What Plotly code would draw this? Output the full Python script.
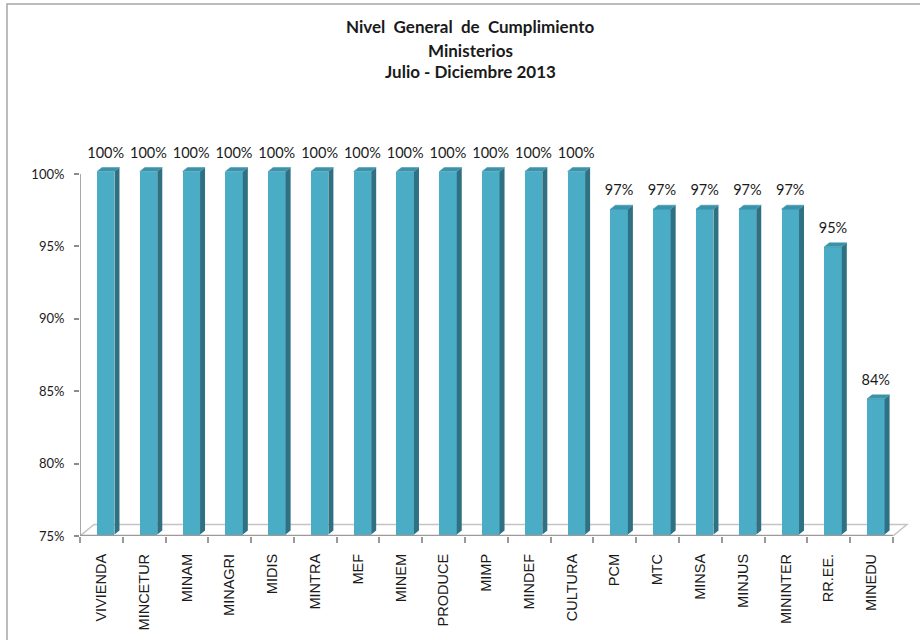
import plotly.graph_objects as go

# ---- data ----
ministerios = ["VIVIENDA", "MINCETUR", "MINAM", "MINAGRI", "MIDIS", "MINTRA", "MEF",
               "MINEM", "PRODUCE", "MIMP", "MINDEF", "CULTURA", "PCM", "MTC", "MINSA",
               "MINJUS", "MININTER", "RR.EE.", "MINEDU"]
cumplimiento = [1.0, 1.0, 1.0, 1.0, 1.0, 1.0, 1.0, 1.0, 1.0, 1.0, 1.0, 1.0,
                0.974, 0.974, 0.974, 0.974, 0.974, 0.948, 0.843]
y_ticks = [0.75, 0.80, 0.85, 0.90, 0.95, 1.00]
titulo = ["Nivel  General  de  Cumplimiento", "Ministerios", "Julio - Diciembre 2013"]

# ---- geometry helpers (pixel scale of the plot area) ----
W, H = 920, 640
L, R, T, B = 80, 10, 130, 104
X0, X1 = -0.5, 18.9
Y0 = 0.75
px_per_y = 1448.0
Y1 = Y0 + (H - B - T) / px_per_y
px_per_x = (W - L - R) / (X1 - X0)

def ux(px):
    return px / px_per_x

def uy(px):
    return px / px_per_y

FRONT = "#4BACC6"
SIDE = "#2F7183"
TOP = "#3B93AB"

face_l, face_r = -0.103, 0.306     # front face relative to category centre
ddx, ddy = ux(5), uy(4)            # bar depth
lift = uy(2.5)
base = Y0 + uy(1.5)

idx = list(range(len(ministerios)))
fig = go.Figure()

# floor
fdx, fdy = ux(14), uy(11.5)
fig.add_shape(type="path",
              path=f"M {X0},{Y0} L {X0+fdx},{Y0+fdy} L {len(idx)-0.5+fdx},{Y0+fdy} L {len(idx)-0.5},{Y0} Z",
              xref="x", yref="y", line=dict(color="#C4C4C4", width=1.5), fillcolor="#FFFFFF", layer="below")

# front faces
fig.add_trace(go.Bar(x=idx, y=[v + lift - base for v in cumplimiento], base=base,
                     width=face_r - face_l, offset=face_l,
                     marker=dict(color=FRONT, line=dict(width=0)), hoverinfo="skip"))

# side and top faces
sx, sy, tx, ty = [], [], [], []
for i, v in zip(idx, cumplimiento):
    xr = i + face_r
    xl = i + face_l
    yt = v + lift
    sx += [xr, xr, xr + ddx, xr + ddx, xr, None]
    sy += [base, yt, yt + ddy, base + ddy, base, None]
    tx += [xl, xr, xr + ddx, xl + ddx, xl, None]
    ty += [yt, yt, yt + ddy, yt + ddy, yt, None]
fig.add_trace(go.Scatter(x=sx, y=sy, fill="toself", fillcolor=SIDE, mode="lines",
                         line=dict(width=0, color=SIDE), hoverinfo="skip"))
fig.add_trace(go.Scatter(x=tx, y=ty, fill="toself", fillcolor=TOP, mode="lines",
                         line=dict(width=0.5, color=TOP), hoverinfo="skip"))

# data labels
fig.add_trace(go.Scatter(x=[i + 0.1 for i in idx],
                         y=[v + lift + ddy + uy(13.5) for v in cumplimiento],
                         text=[f"{v:.0%}" for v in cumplimiento], mode="text",
                         textposition="middle center",
                         textfont=dict(family="Lato", size=14.5, color="#1a1a1a"),
                         cliponaxis=False, hoverinfo="skip"))

# axis lines
fig.add_shape(type="line", xref="x", yref="y", x0=X0, x1=X0, y0=Y0, y1=1.0,
              line=dict(color="#8C8C8C", width=1.5))
fig.add_shape(type="line", xref="x", yref="y", x0=X0, x1=len(idx) - 0.5, y0=Y0, y1=Y0,
              line=dict(color="#9A9A9A", width=2.5))

# outer chart border
fig.add_shape(type="rect", xref="paper", yref="paper",
              x0=(7 - L) / (W - L - R), x1=(930 - L) / (W - L - R),
              y0=(H - B - 650) / (H - B - T), y1=(H - B - 4) / (H - B - T),
              line=dict(color="#A6A6A6", width=1.5))

# title lines
for txt, ypx in zip(titulo, [26, 50, 71]):
    fig.add_annotation(text=f"<b>{txt}</b>", xref="paper", yref="paper",
                       x=(470 - L) / (W - L - R), y=(H - B - ypx) / (H - B - T),
                       xanchor="center", yanchor="middle", showarrow=False,
                       font=dict(family="Lato", size=17, color="#1a1a1a"))

fig.update_layout(
    width=W, height=H, margin=dict(l=L, r=R, t=T, b=B),
    paper_bgcolor="white", plot_bgcolor="white", showlegend=False, bargap=0,
    xaxis=dict(range=[X0, X1], tickmode="array", tickvals=idx, ticktext=ministerios,
               tickangle=-90, ticks="", showgrid=False, zeroline=False, showline=False,
               tickfont=dict(family="Liberation Sans", size=14.5, color="#1a1a1a"),
               ticklabelstandoff=14,
               minor=dict(tickmode="array", tickvals=[i - 0.5 for i in range(len(idx) + 1)],
                          ticks="outside", ticklen=6, tickwidth=1.5, tickcolor="#9A9A9A",
                          showgrid=False)),
    yaxis=dict(range=[Y0, Y1], tickmode="array", tickvals=y_ticks,
               ticktext=[f"{t:.0%}" for t in y_ticks], ticks="outside", ticklen=5,
               tickwidth=1.5, tickcolor="#8C8C8C", showgrid=False, zeroline=False,
               showline=False, ticklabelstandoff=7,
               tickfont=dict(family="Lato", size=13, color="#1a1a1a")),
)

fig.write_html("out.html", config={"displayModeBar": False},
               post_script="document.body.style.margin='0';")
